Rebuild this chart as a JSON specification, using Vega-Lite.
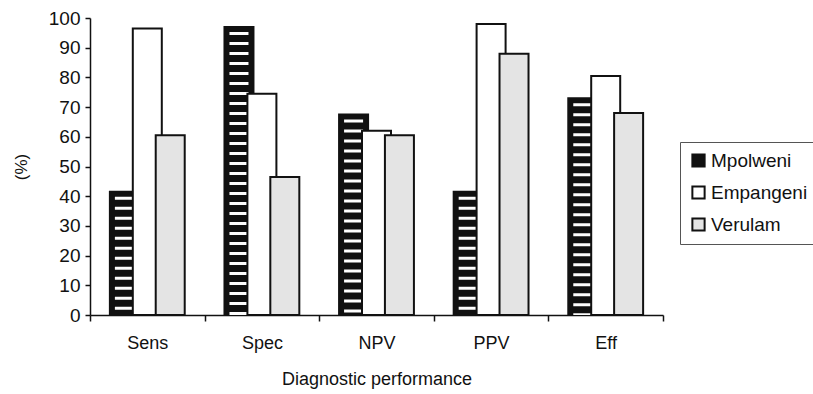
{
  "$schema": "https://vega.github.io/schema/vega-lite/v6.json",
  "autosize": "none",
  "width": 573,
  "height": 297,
  "padding": {"left": 90, "top": 18, "right": 150, "bottom": 79},
  "background": "white",
  "config": {
    "font": "Liberation Sans",
    "view": {"stroke": null},
    "axis": {"domainColor": "#111", "domainWidth": 1.5, "tickColor": "#111", "tickWidth": 1.5, "labelColor": "#111", "titleColor": "#111", "grid": false}
  },
  "data": {
    "values": [
      {"measure": "Sens", "site": "Mpolweni", "pct": 41.5},
      {"measure": "Sens", "site": "Empangeni", "pct": 96.5},
      {"measure": "Sens", "site": "Verulam", "pct": 60.5},
      {"measure": "Spec", "site": "Mpolweni", "pct": 97},
      {"measure": "Spec", "site": "Empangeni", "pct": 74.5},
      {"measure": "Spec", "site": "Verulam", "pct": 46.5},
      {"measure": "NPV", "site": "Mpolweni", "pct": 67.5},
      {"measure": "NPV", "site": "Empangeni", "pct": 62},
      {"measure": "NPV", "site": "Verulam", "pct": 60.5},
      {"measure": "PPV", "site": "Mpolweni", "pct": 41.5},
      {"measure": "PPV", "site": "Empangeni", "pct": 98},
      {"measure": "PPV", "site": "Verulam", "pct": 88},
      {"measure": "Eff", "site": "Mpolweni", "pct": 73},
      {"measure": "Eff", "site": "Empangeni", "pct": 80.5},
      {"measure": "Eff", "site": "Verulam", "pct": 68}
    ]
  },
  "encoding": {
    "x": {
      "field": "measure", "type": "nominal", "sort": ["Sens", "Spec", "NPV", "PPV", "Eff"],
      "scale": {"paddingInner": 0, "paddingOuter": 0},
      "axis": {"title": "Diagnostic performance", "labelAngle": 0, "tickBand": "extent", "tickSize": 6, "labelPadding": 13, "labelFontSize": 18, "titleFontSize": 18, "titleFontWeight": "normal", "titlePadding": 18}
    },
    "xOffset": {
      "field": "site", "type": "nominal",
      "scale": {"domain": ["Mpolweni", "Empangeni", "Verulam"], "paddingInner": 0, "paddingOuter": 1}
    },
    "y": {
      "field": "pct", "type": "quantitative",
      "scale": {"domain": [0, 100], "nice": false},
      "axis": {"title": "(%)", "values": [0, 10, 20, 30, 40, 50, 60, 70, 80, 90, 100], "tickSize": 5, "labelPadding": 5, "labelFontSize": 19, "titleFontSize": 17, "titleFontWeight": "normal", "titlePadding": 18}
    }
  },
  "layer": [
    {
      "transform": [{"filter": "datum.site === 'Mpolweni'"}],
      "mark": {"type": "bar", "width": 29, "stroke": "#111", "strokeWidth": 2},
      "encoding": {
        "color": {
          "field": "site", "type": "nominal",
          "scale": {"domain": ["Mpolweni", "Empangeni", "Verulam"], "range": ["#111111", "#ffffff", "#e4e4e4"]},
          "legend": {"title": null, "orient": "none", "legendX": 590, "legendY": 124, "symbolType": "square", "symbolSize": 150, "symbolStrokeColor": "#111", "symbolStrokeWidth": 2, "labelFontSize": 19, "labelColor": "#111", "rowPadding": 11, "padding": 9, "strokeColor": "#555", "labelOffset": 3}
        }
      }
    },
    {
      "transform": [{"filter": "datum.site === 'Mpolweni'"}],
      "mark": {"type": "rule", "color": "white", "strokeWidth": 19, "strokeDash": [3, 7], "strokeDashOffset": 5},
      "encoding": {"y2": {"datum": 0}}
    },
    {
      "transform": [{"filter": "datum.site !== 'Mpolweni'"}],
      "mark": {"type": "bar", "width": 29, "stroke": "#111", "strokeWidth": 2},
      "encoding": {
        "color": {"field": "site", "type": "nominal"}
      }
    }
  ]
}
